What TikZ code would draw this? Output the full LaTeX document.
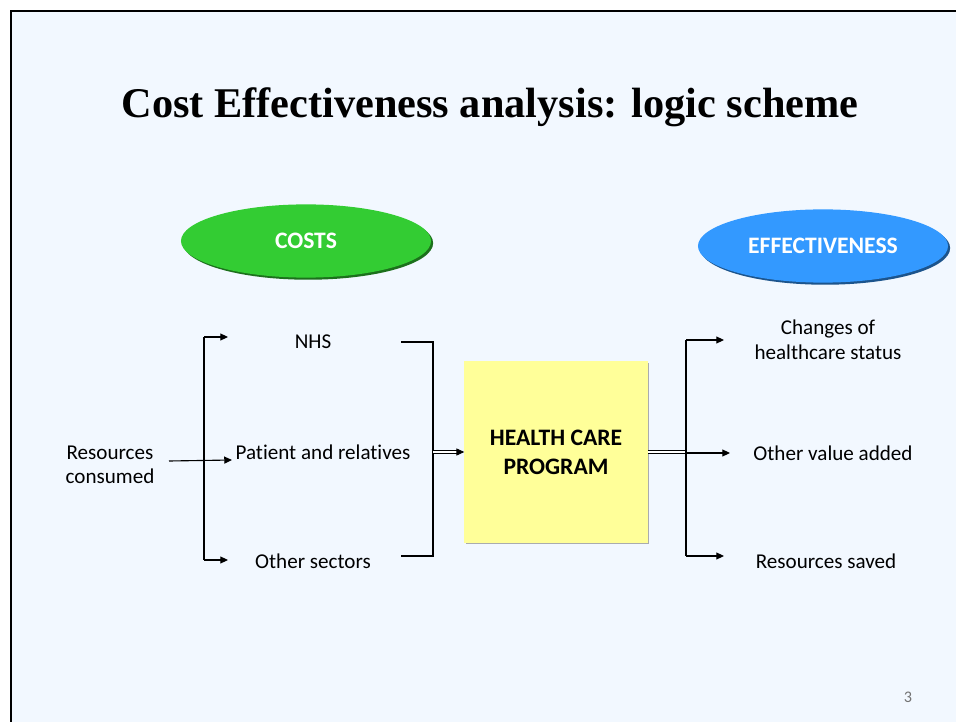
\documentclass[tikz,border=0pt]{standalone}
\usepackage{fontspec}
\setmainfont[Ligatures=NoCommon]{Carlito}
\newfontfamily\titlefont{Liberation Serif}
\usepackage{xcolor}
\usepackage{tikz}
\usetikzlibrary{arrows.meta,shapes.geometric,shadows}

\definecolor{slidebg}{RGB}{242,248,255}
\definecolor{costgreen}{RGB}{51,204,51}
\definecolor{effblue}{RGB}{51,153,255}
\definecolor{progyellow}{RGB}{255,255,153}

\tikzset{
	lbl/.style={font=\fontsize{15}{17.5}\selectfont, align=center, inner sep=0pt},
	oval/.style={ellipse, minimum width=6.25cm, minimum height=1.83cm, inner sep=0pt,
		text=white, font=\bfseries\fontsize{16.8}{19}\selectfont},
	progbox/.style={rectangle, fill=progyellow, minimum width=4.575cm, minimum height=4.525cm,
		align=center, font=\bfseries\fontsize{16.8}{20.5}\selectfont,
		drop shadow={shadow xshift=1.2pt, shadow yshift=-1.2pt, fill=black!45, opacity=0.7}},
	wire/.style={line width=0.8pt},
	conn/.style={wire, -{Triangle[length=5.5pt,width=5pt]}},
	dbl/.style={line width=0.5pt, double distance=1.4pt}
}

\begin{document}
\begin{tikzpicture}[x=0.025cm,y=-0.025cm]
	% Slide background and frame
	\useasboundingbox (0,0) rectangle (956,722);
	\fill[slidebg] (11,11) rectangle (956,722);
	\draw[line width=1.6pt] (11,722) -- (11,11) -- (956,11);
	% Title
	\node[font=\titlefont\bfseries\fontsize{30.1}{35}\selectfont] (title) at (490,107)
		{Cost Effectiveness analysis: logic scheme};
	% Headings
	\node[oval, fill=costgreen,
		drop shadow={shadow xshift=1.5pt, shadow yshift=-1.5pt, fill=costgreen!55!black, opacity=1}]
		(costs) at (306,241) {COSTS};
	\node[oval, fill=effblue,
		drop shadow={shadow xshift=1.5pt, shadow yshift=-1.5pt, fill=effblue!55!black, opacity=1}]
		(effect) at (823,246) {EFFECTIVENESS};
	% The program
	\node[progbox] (prog) at (556,452) {HEALTH CARE\\PROGRAM};
	% Cost side
	\node[lbl] (res) at (110,465) {Resources\\consumed};
	\node[lbl] (nhs) at (313,342) {NHS};
	\node[lbl] (pat) at (323,452) {Patient and relatives};
	\node[lbl] (oth) at (313,561) {Other sectors};
	% Effect side
	\node[lbl] (chg) at (828,340) {Changes of\\healthcare status};
	\node[lbl] (val) at (833,453) {Other value added};
	\node[lbl] (sav) at (826,561) {Resources saved};
	% Page number
	\node[font=\fontsize{11.5}{13}\selectfont, text=black!55] (page) at (908,697) {3};
	% Split of the resources
	\coordinate (ltop) at (204,337);
	\coordinate (lbot) at (204,560);
	\coordinate (rin) at (169,461);
	\coordinate (rout) at (232,460);
	\draw[wire] (ltop) -- (lbot);
	\draw[conn] (rin) -- (rout);
	\foreach \c in {ltop,lbot}
		\draw[conn] (\c) -- ++(24,0);
	% Costs gathered into the program
	\coordinate (ctop) at (401,342);
	\coordinate (cbot) at (401,556);
	\coordinate (cmid) at (433,452);
	\draw[wire] (ctop) -- (433,342) -- (433,556) -- (cbot);
	\draw[dbl, -{Triangle[length=5.5pt,width=5pt]}] (cmid) -- (prog.west);
	% Effects of the program
	\coordinate (etop) at (686,340);
	\coordinate (ebot) at (686,556);
	\coordinate (emid) at (686,452);
	\draw[dbl] (prog.east |- emid) -- (emid);
	\draw[wire] (etop) -- (ebot);
	\foreach \c/\len in {etop/38,ebot/38}
		\draw[conn] (\c) -- ++(\len,0);
	\draw[conn] (emid) ++(0,1) -- ++(44,0);
\end{tikzpicture}
\end{document}
